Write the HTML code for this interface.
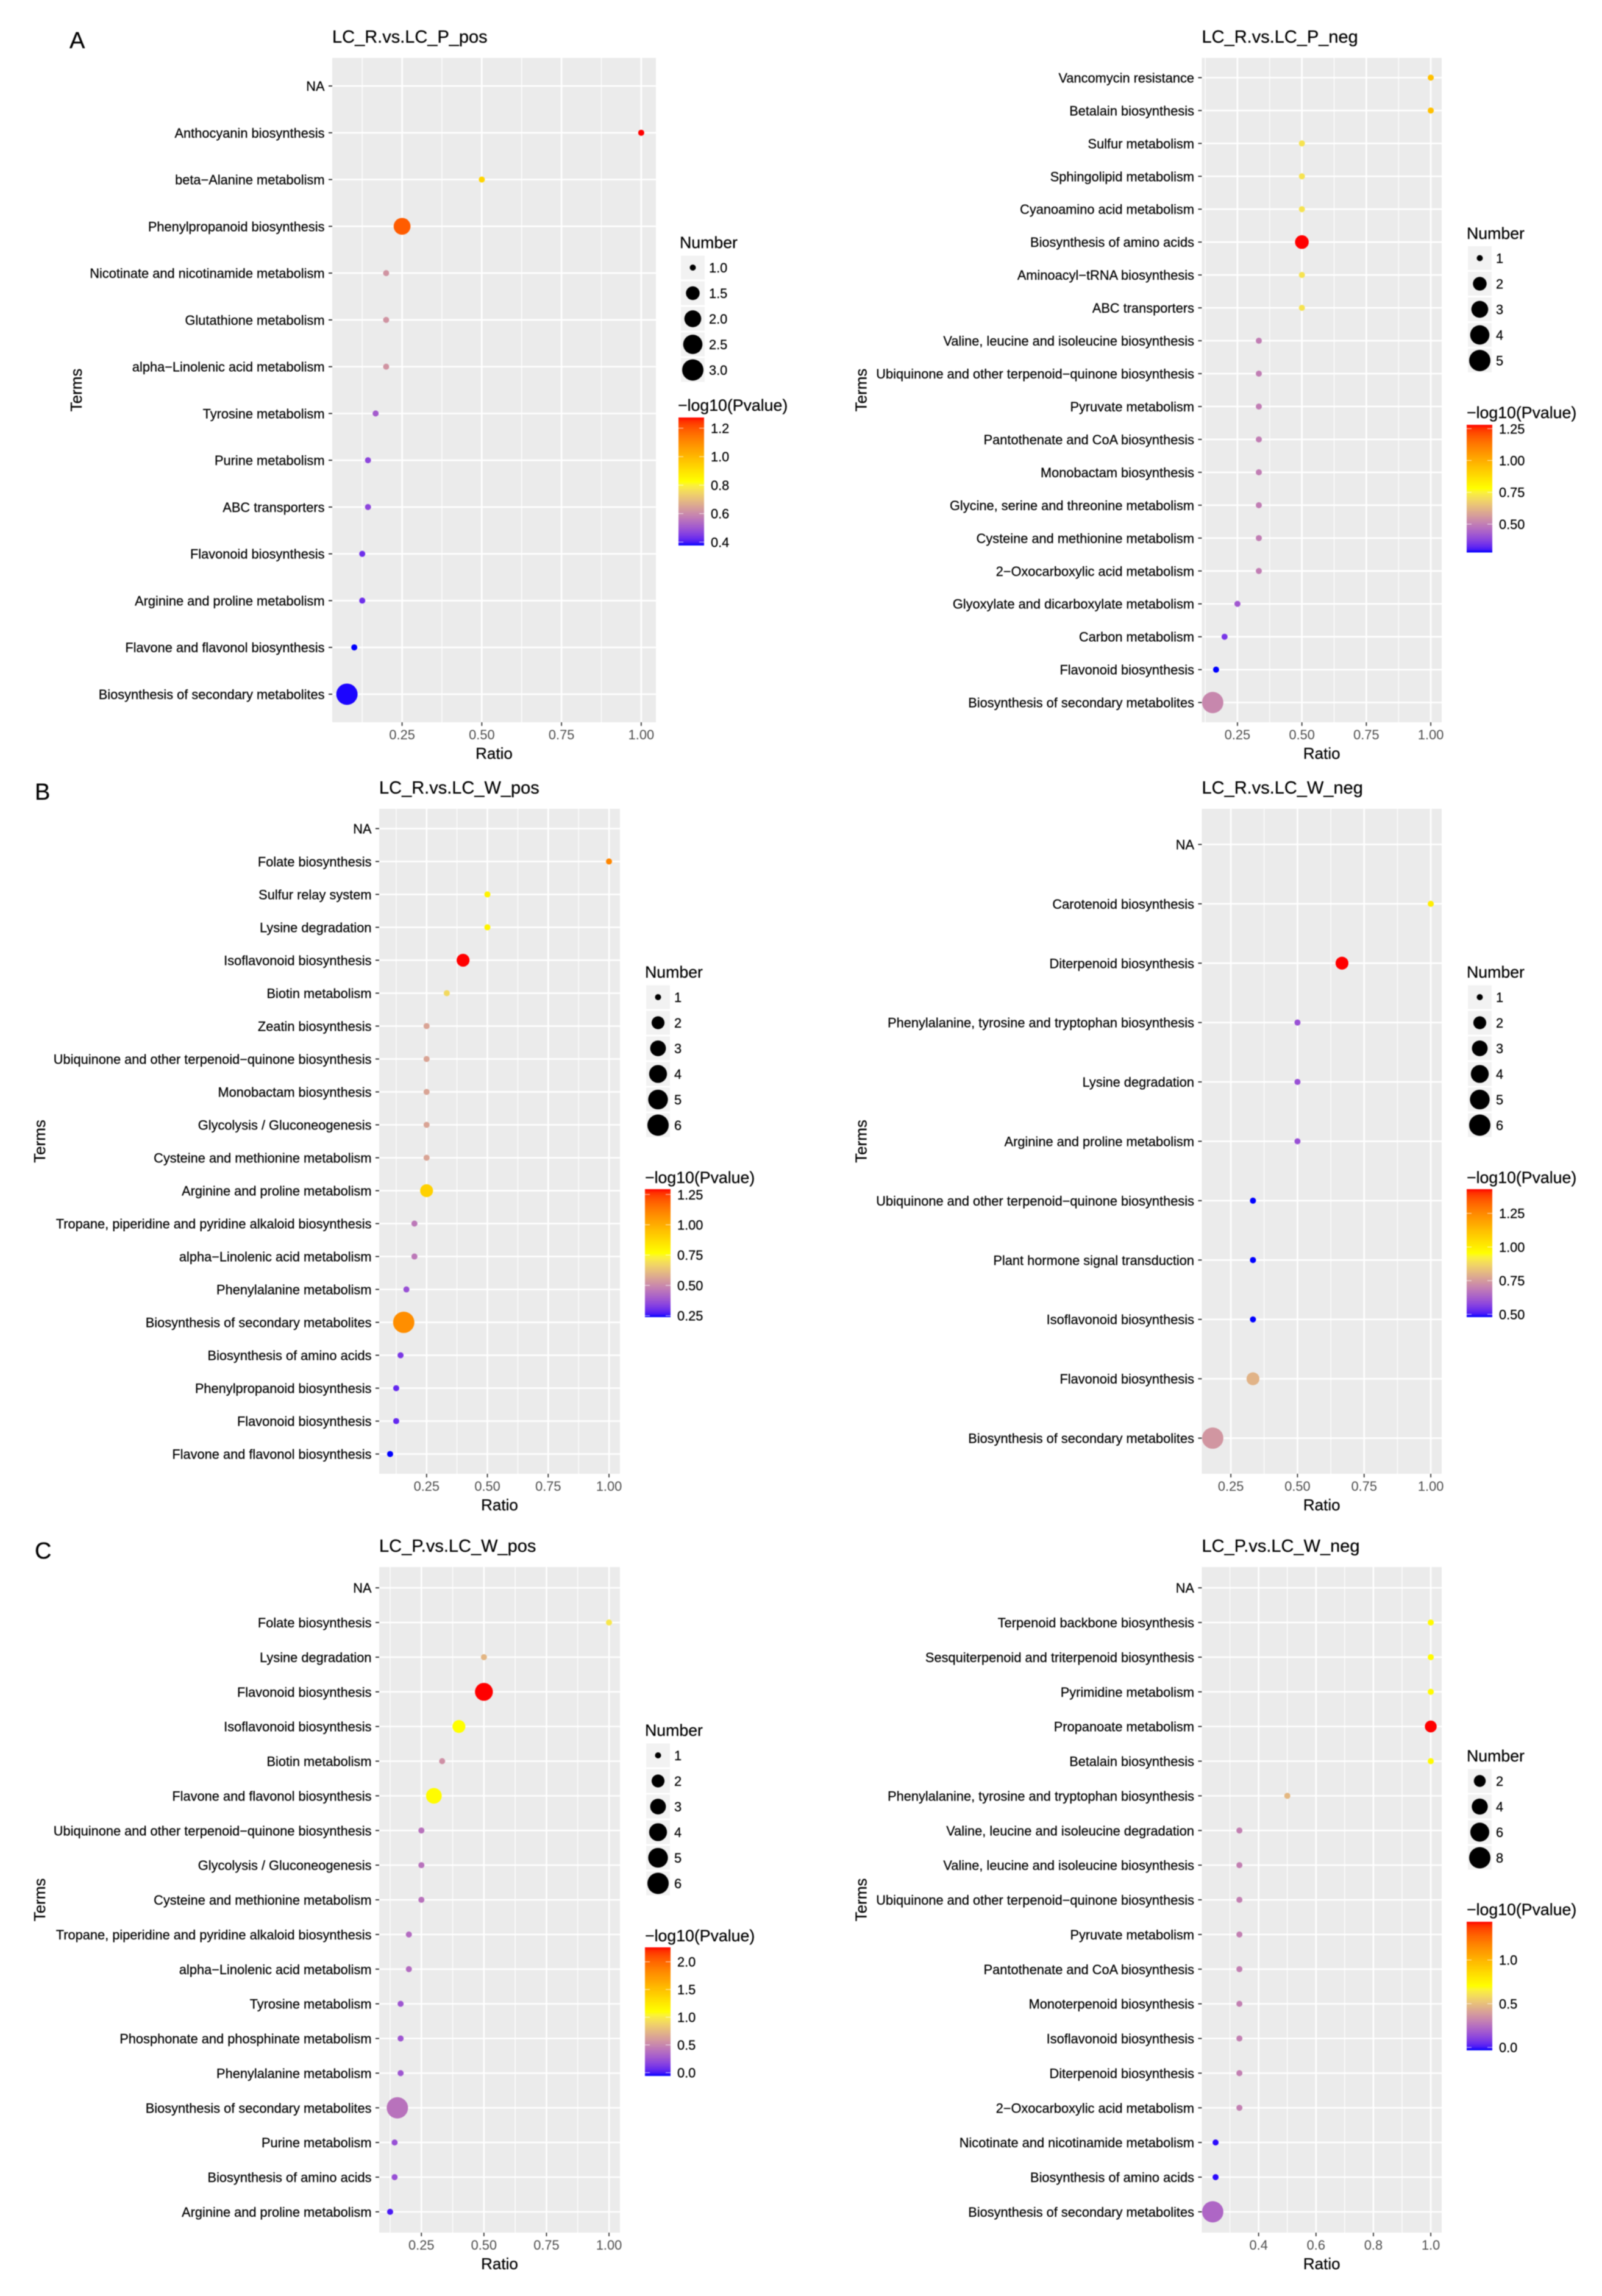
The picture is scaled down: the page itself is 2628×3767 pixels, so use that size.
<!DOCTYPE html>
<html lang="en">
<head>
<meta charset="utf-8">
<title>KEGG enrichment bubble charts</title>
<style>
html,body{margin:0;padding:0;background:#fff;}
#figure{display:block;width:2628px;height:3767px;filter:blur(0.8px);font-family:"Liberation Sans",sans-serif;}
#figure text[fill="#000"]{stroke:#000;stroke-width:0.25px;}
</style>
</head>
<body>
<svg id="figure" xmlns="http://www.w3.org/2000/svg" width="2628" height="3767" viewBox="0 0 2628 3767"></svg>
<script>
// ---------- Panel A, LC_R.vs.LC_P_pos ----------
const aPosTerms = ["NA","Anthocyanin biosynthesis","beta−Alanine metabolism","Phenylpropanoid biosynthesis","Nicotinate and nicotinamide metabolism","Glutathione metabolism","alpha−Linolenic acid metabolism","Tyrosine metabolism","Purine metabolism","ABC transporters","Flavonoid biosynthesis","Arginine and proline metabolism","Flavone and flavonol biosynthesis","Biosynthesis of secondary metabolites"];
const aPosRatio = [null,1,0.5,0.25,0.2,0.2,0.2,0.167,0.143,0.143,0.125,0.125,0.1,0.077];
const aPosNumber = [null,1,1,2,1,1,1,1,1,1,1,1,1,3];
const aPosPvalue = [null,1.275,0.93,1.19,0.62,0.62,0.62,0.51,0.47,0.47,0.43,0.43,0.376,0.38];
const aPosXTicks = [0.25,0.5,0.75,1];
const aPosSizeBreaks = [1,1.5,2,2.5,3];
const aPosSizeLabels = ["1.0","1.5","2.0","2.5","3.0"];
const aPosColorBreaks = [0.4,0.6,0.8,1.0,1.2];
const aPosColorLabels = ["0.4","0.6","0.8","1.0","1.2"];

// ---------- Panel A, LC_R.vs.LC_P_neg ----------
const aNegTerms = ["Vancomycin resistance","Betalain biosynthesis","Sulfur metabolism","Sphingolipid metabolism","Cyanoamino acid metabolism","Biosynthesis of amino acids","Aminoacyl−tRNA biosynthesis","ABC transporters","Valine, leucine and isoleucine biosynthesis","Ubiquinone and other terpenoid−quinone biosynthesis","Pyruvate metabolism","Pantothenate and CoA biosynthesis","Monobactam biosynthesis","Glycine, serine and threonine metabolism","Cysteine and methionine metabolism","2−Oxocarboxylic acid metabolism","Glyoxylate and dicarboxylate metabolism","Carbon metabolism","Flavonoid biosynthesis","Biosynthesis of secondary metabolites"];
const aNegRatio = [1,1,0.5,0.5,0.5,0.5,0.5,0.5,0.333,0.333,0.333,0.333,0.333,0.333,0.333,0.333,0.25,0.2,0.167,0.154];
const aNegNumber = [1,1,1,1,1,2,1,1,1,1,1,1,1,1,1,1,1,1,1,5];
const aNegPvalue = [0.95,0.95,0.72,0.72,0.72,1.28,0.72,0.72,0.5,0.5,0.5,0.5,0.5,0.5,0.5,0.5,0.42,0.35,0.277,0.52];
const aNegXTicks = [0.25,0.5,0.75,1];
const aNegSizeBreaks = [1,2,3,4,5];
const aNegSizeLabels = ["1","2","3","4","5"];
const aNegColorBreaks = [0.5,0.75,1,1.25];
const aNegColorLabels = ["0.50","0.75","1.00","1.25"];

// ---------- Panel B, LC_R.vs.LC_W_pos ----------
const bPosTerms = ["NA","Folate biosynthesis","Sulfur relay system","Lysine degradation","Isoflavonoid biosynthesis","Biotin metabolism","Zeatin biosynthesis","Ubiquinone and other terpenoid−quinone biosynthesis","Monobactam biosynthesis","Glycolysis / Gluconeogenesis","Cysteine and methionine metabolism","Arginine and proline metabolism","Tropane, piperidine and pyridine alkaloid biosynthesis","alpha−Linolenic acid metabolism","Phenylalanine metabolism","Biosynthesis of secondary metabolites","Biosynthesis of amino acids","Phenylpropanoid biosynthesis","Flavonoid biosynthesis","Flavone and flavonol biosynthesis"];
const bPosRatio = [null,1,0.5,0.5,0.4,0.333,0.25,0.25,0.25,0.25,0.25,0.25,0.2,0.2,0.167,0.156,0.143,0.125,0.125,0.1];
const bPosNumber = [null,1,1,1,2,1,1,1,1,1,1,2,1,1,1,6,1,1,1,1];
const bPosPvalue = [null,1.1,0.8,0.8,1.294,0.68,0.56,0.56,0.56,0.56,0.56,0.9,0.46,0.46,0.37,1.08,0.32,0.29,0.29,0.238];
const bPosXTicks = [0.25,0.5,0.75,1];
const bPosSizeBreaks = [1,2,3,4,5,6];
const bPosSizeLabels = ["1","2","3","4","5","6"];
const bPosColorBreaks = [0.25,0.5,0.75,1,1.25];
const bPosColorLabels = ["0.25","0.50","0.75","1.00","1.25"];

// ---------- Panel B, LC_R.vs.LC_W_neg ----------
const bNegTerms = ["NA","Carotenoid biosynthesis","Diterpenoid biosynthesis","Phenylalanine, tyrosine and tryptophan biosynthesis","Lysine degradation","Arginine and proline metabolism","Ubiquinone and other terpenoid−quinone biosynthesis","Plant hormone signal transduction","Isoflavonoid biosynthesis","Flavonoid biosynthesis","Biosynthesis of secondary metabolites"];
const bNegRatio = [null,1,0.667,0.5,0.5,0.5,0.333,0.333,0.333,0.333,0.182];
const bNegNumber = [null,1,2,1,1,1,1,1,1,2,6];
const bNegPvalue = [null,1.0,1.43,0.6,0.6,0.6,0.479,0.479,0.479,0.8,0.74];
const bNegXTicks = [0.25,0.5,0.75,1];
const bNegSizeBreaks = [1,2,3,4,5,6];
const bNegSizeLabels = ["1","2","3","4","5","6"];
const bNegColorBreaks = [0.5,0.75,1,1.25];
const bNegColorLabels = ["0.50","0.75","1.00","1.25"];

// ---------- Panel C, LC_P.vs.LC_W_pos ----------
const cPosTerms = ["NA","Folate biosynthesis","Lysine degradation","Flavonoid biosynthesis","Isoflavonoid biosynthesis","Biotin metabolism","Flavone and flavonol biosynthesis","Ubiquinone and other terpenoid−quinone biosynthesis","Glycolysis / Gluconeogenesis","Cysteine and methionine metabolism","Tropane, piperidine and pyridine alkaloid biosynthesis","alpha−Linolenic acid metabolism","Tyrosine metabolism","Phosphonate and phosphinate metabolism","Phenylalanine metabolism","Biosynthesis of secondary metabolites","Purine metabolism","Biosynthesis of amino acids","Arginine and proline metabolism"];
const cPosRatio = [null,1,0.5,0.5,0.4,0.333,0.3,0.25,0.25,0.25,0.2,0.2,0.167,0.167,0.167,0.154,0.143,0.143,0.125];
const cPosNumber = [null,1,1,4,2,1,3,1,1,1,1,1,1,1,1,6,1,1,1];
const cPosPvalue = [null,0.98,0.74,2.26,1.1,0.55,1.12,0.4,0.4,0.4,0.37,0.37,0.26,0.26,0.26,0.4,0.23,0.23,0.0];
const cPosXTicks = [0.25,0.5,0.75,1];
const cPosSizeBreaks = [1,2,3,4,5,6];
const cPosSizeLabels = ["1","2","3","4","5","6"];
const cPosColorBreaks = [0,0.5,1,1.5,2];
const cPosColorLabels = ["0.0","0.5","1.0","1.5","2.0"];

// ---------- Panel C, LC_P.vs.LC_W_neg ----------
const cNegTerms = ["NA","Terpenoid backbone biosynthesis","Sesquiterpenoid and triterpenoid biosynthesis","Pyrimidine metabolism","Propanoate metabolism","Betalain biosynthesis","Phenylalanine, tyrosine and tryptophan biosynthesis","Valine, leucine and isoleucine degradation","Valine, leucine and isoleucine biosynthesis","Ubiquinone and other terpenoid−quinone biosynthesis","Pyruvate metabolism","Pantothenate and CoA biosynthesis","Monoterpenoid biosynthesis","Isoflavonoid biosynthesis","Diterpenoid biosynthesis","2−Oxocarboxylic acid metabolism","Nicotinate and nicotinamide metabolism","Biosynthesis of amino acids","Biosynthesis of secondary metabolites"];
const cNegRatio = [null,1,1,1,1,1,0.5,0.333,0.333,0.333,0.333,0.333,0.333,0.333,0.333,0.333,0.25,0.25,0.24];
const cNegNumber = [null,1,1,1,2,1,1,1,1,1,1,1,1,1,1,1,1,1,8];
const cNegPvalue = [null,0.72,0.72,0.72,1.4375,0.72,0.48,0.3,0.3,0.3,0.3,0.3,0.3,0.3,0.3,0.3,-0.02,-0.02,0.22];
const cNegXTicks = [0.4,0.6,0.8,1];
const cNegSizeBreaks = [2,4,6,8];
const cNegSizeLabels = ["2","4","6","8"];
const cNegColorBreaks = [0,0.5,1];
const cNegColorLabels = ["0.0","0.5","1.0"];

// ---------- Layout (pixels, not data) ----------
const panels = [
 {key:"a-pos",title:"LC_R.vs.LC_P_pos",terms:aPosTerms,ratio:aPosRatio,number:aPosNumber,pvalue:aPosPvalue,xTicks:aPosXTicks,xDigits:2,sizeBreaks:aPosSizeBreaks,sizeLabels:aPosSizeLabels,colorBreaks:aPosColorBreaks,colorLabels:aPosColorLabels,sizeDomain:[1,3],colorDomain:[0.376,1.275],
  l:545,r:1076,t:95,b:1185,termsX:125,numX:1115,numY:398,keyX:1117,keyY:439,cbTitleX:1112,cbTitleY:665,cbX:1113,cbW:42,cbT:685,cbB:895},
 {key:"a-neg",title:"LC_R.vs.LC_P_neg",terms:aNegTerms,ratio:aNegRatio,number:aNegNumber,pvalue:aNegPvalue,xTicks:aNegXTicks,xDigits:2,sizeBreaks:aNegSizeBreaks,sizeLabels:aNegSizeLabels,colorBreaks:aNegColorBreaks,colorLabels:aNegColorLabels,sizeDomain:[1,5],colorDomain:[0.277,1.28],
  l:1971.5,r:2365,t:95,b:1185,termsX:1412.6,numX:2406,numY:383,keyX:2408,keyY:423.5,cbTitleX:2406,cbTitleY:677,cbX:2406,cbW:42,cbT:697,cbB:906.5},
 {key:"b-pos",title:"LC_R.vs.LC_W_pos",terms:bPosTerms,ratio:bPosRatio,number:bPosNumber,pvalue:bPosPvalue,xTicks:bPosXTicks,xDigits:2,sizeBreaks:bPosSizeBreaks,sizeLabels:bPosSizeLabels,colorBreaks:bPosColorBreaks,colorLabels:bPosColorLabels,sizeDomain:[1,6],colorDomain:[0.238,1.294],
  l:622,r:1017,t:1327,b:2418,termsX:65,numX:1058,numY:1595,keyX:1060,keyY:1636,cbTitleX:1058,cbTitleY:1932,cbX:1058,cbW:42,cbT:1951,cbB:2161},
 {key:"b-neg",title:"LC_R.vs.LC_W_neg",terms:bNegTerms,ratio:bNegRatio,number:bNegNumber,pvalue:bNegPvalue,xTicks:bNegXTicks,xDigits:2,sizeBreaks:bNegSizeBreaks,sizeLabels:bNegSizeLabels,colorBreaks:bNegColorBreaks,colorLabels:bNegColorLabels,sizeDomain:[1,6],colorDomain:[0.479,1.43],
  l:1971.5,r:2365,t:1327,b:2418,termsX:1412.6,numX:2406,numY:1595,keyX:2408,keyY:1636,cbTitleX:2406,cbTitleY:1932,cbX:2406,cbW:42,cbT:1951,cbB:2161},
 {key:"c-pos",title:"LC_P.vs.LC_W_pos",terms:cPosTerms,ratio:cPosRatio,number:cPosNumber,pvalue:cPosPvalue,xTicks:cPosXTicks,xDigits:2,sizeBreaks:cPosSizeBreaks,sizeLabels:cPosSizeLabels,colorBreaks:cPosColorBreaks,colorLabels:cPosColorLabels,sizeDomain:[1,6],colorDomain:[-0.06,2.26],
  l:622,r:1017,t:2571,b:3663,termsX:65,numX:1058,numY:2839,keyX:1060,keyY:2880,cbTitleX:1058,cbTitleY:3176,cbX:1058,cbW:42,cbT:3195,cbB:3406},
 {key:"c-neg",title:"LC_P.vs.LC_W_neg",terms:cNegTerms,ratio:cNegRatio,number:cNegNumber,pvalue:cNegPvalue,xTicks:cNegXTicks,xDigits:1,sizeBreaks:cNegSizeBreaks,sizeLabels:cNegSizeLabels,colorBreaks:cNegColorBreaks,colorLabels:cNegColorLabels,sizeDomain:[1,8],colorDomain:[-0.034,1.4375],
  l:1971.5,r:2365,t:2571,b:3663,termsX:1412.6,numX:2406,numY:2881,keyX:2408,keyY:2922,cbTitleX:2406,cbTitleY:3133,cbX:2406,cbW:42,cbT:3153,cbB:3364}
];
const panelLetters = [["A",114,79],["B",57,1312],["C",57,2557]];

// ---------- Helpers ----------
const NS = "http://www.w3.org/2000/svg";
const svg = document.getElementById("figure");
const defs = document.createElementNS(NS, "defs");
svg.appendChild(defs);

function mk(parent, tag, attrs, text) {
  const el = document.createElementNS(NS, tag);
  for (const k in attrs) el.setAttribute(k, attrs[k]);
  if (text !== undefined) el.textContent = text;
  parent.appendChild(el);
  return el;
}
function srgbToLab(c) {
  const f = v => { v /= 255; return v > 0.04045 ? Math.pow((v + 0.055) / 1.055, 2.4) : v / 12.92; };
  const r = f(c[0]), g = f(c[1]), b = f(c[2]);
  const x = (0.4124 * r + 0.3576 * g + 0.1805 * b) / 0.95047;
  const y = 0.2126 * r + 0.7152 * g + 0.0722 * b;
  const z = (0.0193 * r + 0.1192 * g + 0.9505 * b) / 1.08883;
  const h = v => v > 0.008856 ? Math.cbrt(v) : 7.787 * v + 16 / 116;
  return [116 * h(y) - 16, 500 * (h(x) - h(y)), 200 * (h(y) - h(z))];
}
function labToCss(l) {
  const fy = (l[0] + 16) / 116, fx = fy + l[1] / 500, fz = fy - l[2] / 200;
  const h = v => v * v * v > 0.008856 ? v * v * v : (v - 16 / 116) / 7.787;
  const x = h(fx) * 0.95047, y = h(fy), z = h(fz) * 1.08883;
  const lin = [3.2406 * x - 1.5372 * y - 0.4986 * z, -0.9689 * x + 1.8758 * y + 0.0415 * z, 0.0557 * x - 0.204 * y + 1.057 * z];
  const g = v => { v = Math.max(0, Math.min(1, v)); return Math.round(255 * (v > 0.0031308 ? 1.055 * Math.pow(v, 1 / 2.4) - 0.055 : 12.92 * v)); };
  return "rgb(" + lin.map(g).join(",") + ")";
}
const LAB_BLUE = srgbToLab([0, 0, 255]);
const LAB_YELLOW = srgbToLab([255, 255, 0]);
const LAB_RED = srgbToLab([255, 0, 0]);
function gradientColor(t) {
  t = Math.max(0, Math.min(1, t));
  const a = t < 0.5 ? LAB_BLUE : LAB_YELLOW;
  const b = t < 0.5 ? LAB_YELLOW : LAB_RED;
  const u = t < 0.5 ? t * 2 : (t - 0.5) * 2;
  return labToCss([a[0] + (b[0] - a[0]) * u, a[1] + (b[1] - a[1]) * u, a[2] + (b[2] - a[2]) * u]);
}
function finite(arr) { return arr.filter(v => v !== null); }

// ---------- Draw ----------
panelLetters.forEach(function (p) {
  const el = mk(svg, "text", {x: p[1], y: p[2], "font-size": 38, fill: "#000"}, p[0]);
  
  
});

panels.forEach(function (P) {
  const g = mk(svg, "g", {});
  
  

  // x scale: data range with 5% expansion
  const rs = finite(P.ratio);
  const rMin = Math.min.apply(null, rs), rMax = Math.max.apply(null, rs);
  const pad = (rMax - rMin) * 0.05;
  const x0 = rMin - pad, x1 = rMax + pad;
  const xs = v => P.l + (v - x0) / (x1 - x0) * (P.r - P.l);
  // y scale: discrete, 0.6 unit padding
  const n = P.terms.length;
  const step = (P.b - P.t) / (n - 1 + 1.2);
  const ys = i => P.t + (0.6 + i) * step;
  const sizeOf = v => 10 + 25 * Math.sqrt(Math.max(0, (v - P.sizeDomain[0]) / (P.sizeDomain[1] - P.sizeDomain[0])));
  const colorT = v => (v - P.colorDomain[0]) / (P.colorDomain[1] - P.colorDomain[0]);

  const title = mk(g, "text", {x: P.l, y: P.t - 25, "font-size": 29, fill: "#000"}, P.title);
  
  

  const bg = mk(g, "rect", {x: P.l, y: P.t, width: P.r - P.l, height: P.b - P.t, fill: "#ebebeb"});
  
  

  // minor vertical grid
  const tickStep = P.xTicks[1] - P.xTicks[0];
  const minors = [];
  for (let i = 0; i < P.xTicks.length; i++) {
    minors.push(P.xTicks[i] - tickStep / 2);
  }
  minors.push(P.xTicks[P.xTicks.length - 1] + tickStep / 2);
  minors.filter(m => m >= x0 && m <= x1).forEach(function (m) {
    const ln = mk(g, "line", {x1: xs(m), x2: xs(m), y1: P.t, y2: P.b, stroke: "#fff", "stroke-width": 1.3});
    
    
  });
  // major vertical grid, ticks and labels
  P.xTicks.forEach(function (v) {
    const ln = mk(g, "line", {x1: xs(v), x2: xs(v), y1: P.t, y2: P.b, stroke: "#fff", "stroke-width": 2.6});
    
    
    const tk = mk(g, "line", {x1: xs(v), x2: xs(v), y1: P.b, y2: P.b + 6, stroke: "#333", "stroke-width": 1.8});
    
    
    const lb = mk(g, "text", {x: xs(v), y: P.b + 28, "font-size": 21.8, fill: "#4d4d4d", "text-anchor": "middle"}, v.toFixed(P.xDigits));
    
    
  });
  // horizontal grid, y ticks and labels
  P.terms.forEach(function (term, i) {
    const y = ys(i);
    const ln = mk(g, "line", {x1: P.l, x2: P.r, y1: y, y2: y, stroke: "#fff", "stroke-width": 2.6});
    
    
    const tk = mk(g, "line", {x1: P.l - 6, x2: P.l, y1: y, y2: y, stroke: "#222", "stroke-width": 1.8});
    
    
    const lb = mk(g, "text", {x: P.l - 12.5, y: y + 8, "font-size": 21.8, fill: "#000", "text-anchor": "end"}, term);
    
    
  });
  // points
  P.terms.forEach(function (term, i) {
    if (P.ratio[i] === null) return;
    const c = mk(g, "circle", {cx: xs(P.ratio[i]), cy: ys(i), r: sizeOf(P.number[i]) / 2, fill: gradientColor(colorT(P.pvalue[i]))});
    
    
  });

  // axis titles
  const xt = mk(g, "text", {x: (P.l + P.r) / 2, y: P.b + 60, "font-size": 26, fill: "#000", "text-anchor": "middle"}, "Ratio");
  
  
  const cy = (P.t + P.b) / 2;
  const yt = mk(g, "text", {x: P.termsX + 9, y: cy, "font-size": 26, fill: "#000", "text-anchor": "middle", transform: "rotate(-90 " + (P.termsX + 9) + " " + cy + ")"}, "Terms");
  
  

  // size legend
  const numT = mk(g, "text", {x: P.numX, y: P.numY + 9, "font-size": 26.7, fill: "#000"}, "Number");
  
  
  P.sizeBreaks.forEach(function (v, i) {
    const ky = P.keyY + i * 42;
    const key = mk(g, "rect", {x: P.keyX, y: ky - 19.5, width: 39, height: 39, fill: "#f2f2f2"});
    
    
    const dot = mk(g, "circle", {cx: P.keyX + 19.5, cy: ky, r: sizeOf(v) / 2, fill: "#000"});
    
    
    const lb = mk(g, "text", {x: P.keyX + 46, y: ky + 8, "font-size": 21.8, fill: "#000"}, P.sizeLabels[i]);
    
    
  });

  // colour bar
  const cbT = mk(g, "text", {x: P.cbTitleX, y: P.cbTitleY + 9, "font-size": 26.7, fill: "#000"}, "−log10(Pvalue)");
  
  
  const gradId = "grad-" + P.key;
  const lg = mk(defs, "linearGradient", {id: gradId, x1: 0, x2: 0, y1: 1, y2: 0});
  for (let i = 0; i <= 40; i++) {
    mk(lg, "stop", {offset: i / 40, "stop-color": gradientColor(i / 40)});
  }
  const bar = mk(g, "rect", {x: P.cbX, y: P.cbT, width: P.cbW, height: P.cbB - P.cbT, fill: "url(#" + gradId + ")"});
  
  
  P.colorBreaks.forEach(function (v, i) {
    const y = P.cbB - colorT(v) * (P.cbB - P.cbT);
    const t1 = mk(g, "line", {x1: P.cbX, x2: P.cbX + 8, y1: y, y2: y, stroke: "#fff", "stroke-width": 1, opacity: 0.8});
    
    
    const t2 = mk(g, "line", {x1: P.cbX + P.cbW - 8, x2: P.cbX + P.cbW, y1: y, y2: y, stroke: "#fff", "stroke-width": 1, opacity: 0.8});
    
    
    const lb = mk(g, "text", {x: P.cbX + P.cbW + 11, y: y + 8, "font-size": 21.8, fill: "#000"}, P.colorLabels[i]);
    
    
  });
});
</script>
</body>
</html>
